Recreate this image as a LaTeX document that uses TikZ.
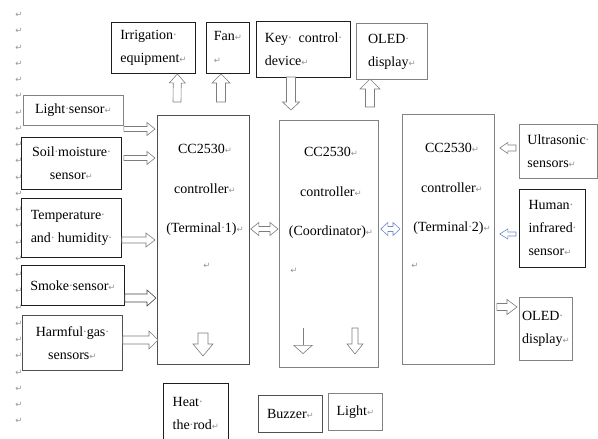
\documentclass[tikz,border=0pt]{standalone}
\usepackage{fontspec}
\setmainfont{Liberation Serif}
\newfontfamily\retfont{DejaVu Sans}
\usetikzlibrary{calc,arrows.meta}
\definecolor{markgray}{RGB}{150,150,150}
\definecolor{arrgray}{RGB}{125,125,125}
\definecolor{arrdark}{RGB}{70,70,70}
\definecolor{arrblue}{RGB}{110,140,200}
\definecolor{boxdark}{RGB}{30,30,30}
\definecolor{boxmid}{RGB}{80,80,80}
\definecolor{boxgray}{RGB}{130,130,130}
\newcommand\rt{{\retfont\fontsize{8.5}{8.5}\selectfont\color{markgray}↵}}
\newcommand\dt{\makebox[3.5pt][c]{\color{markgray}·}}
\tikzset{
  box/.style={draw=#1, line width=0.8pt, fill=white, anchor=north west, inner sep=0pt,
    align=left, font=\fontsize{14}{23}\selectfont},
  box/.default=boxdark,
  bigbox/.style={draw=#1, line width=0.8pt, fill=white, anchor=north west, inner sep=0pt},
  bigbox/.default=boxgray,
  termtext/.style={inner sep=0pt, align=center, font=\fontsize{14}{39.5}\selectfont},
  retmark/.style={inner sep=0pt},
  blk/.style n args={3}{line width=0.6pt, fill=white, to path={
    ($(\tikztotarget)!#3!(\tikztostart)$) coordinate (bbx)
    ($(\tikztostart)!#1!90:(\tikztotarget)$)
    -- ($(bbx)!#1!90:(\tikztotarget)$)
    -- ($(bbx)!#2!90:(\tikztotarget)$)
    -- (\tikztotarget)
    -- ($(bbx)!#2!-90:(\tikztotarget)$)
    -- ($(bbx)!#1!-90:(\tikztotarget)$)
    -- ($(\tikztostart)!#1!-90:(\tikztotarget)$)
    -- cycle}},
  blktwo/.style n args={3}{line width=0.6pt, fill=white, to path={
    ($(\tikztostart)!#3!(\tikztotarget)$) coordinate (bsx)
    ($(\tikztotarget)!#3!(\tikztostart)$) coordinate (btx)
    (\tikztostart)
    -- ($(bsx)!#2!90:(\tikztotarget)$)
    -- ($(bsx)!#1!90:(\tikztotarget)$)
    -- ($(btx)!#1!90:(\tikztotarget)$)
    -- ($(btx)!#2!90:(\tikztotarget)$)
    -- (\tikztotarget)
    -- ($(btx)!#2!-90:(\tikztotarget)$)
    -- ($(btx)!#1!-90:(\tikztotarget)$)
    -- ($(bsx)!#1!-90:(\tikztotarget)$)
    -- ($(bsx)!#2!-90:(\tikztotarget)$)
    -- cycle}},
}
\begin{document}
\begin{tikzpicture}[x=1pt,y=-1pt]
\fill[white] (0,0) rectangle (598,439);
\useasboundingbox (0,0) rectangle (598,439);

% paragraph marks in the left margin
\foreach \k in {0,...,25} \node[retmark] (m\k) at (19,{15+16.25*\k}) {\rt};

% top row
\node[box] (irr) at (111,22) [minimum width=84, minimum height=51] {Irrigation\dt\\equipment\rt};
\node[box] (fan) at (206,22) [minimum width=43, minimum height=51] {Fan\rt\\\rt};
\node[box] (key) at (256,21) [minimum width=94, minimum height=56] {Key\dt\ \ control\dt\\device\rt};
\node[box=boxgray] (oledt) at (356,23) [minimum width=71, minimum height=56] {OLED\dt\\display\rt};

% left sensors
\node[box=boxgray] (light) at (23,95) [minimum width=100, minimum height=30] {Light\dt sensor\rt};
\node[box, align=center] (soil) at (21,137) [minimum width=100, minimum height=52] {Soil\dt moisture\dt\\sensor\rt};
\node[box] (temp) at (21,198) [minimum width=100, minimum height=59] {Temperature\dt\\and\dt\ humidity\dt};
\node[box] (smoke) at (21,265) [minimum width=103, minimum height=40] {Smoke\dt sensor\rt};
\node[box=boxmid, align=center] (harm) at (22,315) [minimum width=100, minimum height=55] {Harmful\dt gas\dt\\sensors\rt};

% controllers
\node[bigbox=boxmid] (t1) at (157,115) [minimum width=92, minimum height=249] {};
\node[bigbox] (coord) at (279,120) [minimum width=99, minimum height=247] {};
\node[bigbox] (t2) at (402,114) [minimum width=92, minimum height=250] {};
\node[termtext] (t1l) at (205,190) {CC2530\rt\\controller\rt\\(Terminal\dt 1)\rt};
\node[termtext] (coordl) at (331,193) {CC2530\rt\\controller\rt\\(Coordinator)\rt};
\node[termtext] (t2l) at (452,189) {CC2530\rt\\controller\rt\\(Terminal\dt 2)\rt};
\node[retmark] (t1r) at (207,266) {\rt};
\node[retmark] (coordr) at (294,271) {\rt};
\node[retmark] (t2r) at (415,266) {\rt};

% right sensors
\node[box=boxgray] (ultra) at (519,124) [minimum width=78, minimum height=54] {Ultrasonic\dt\\sensors\rt};
\node[box] (human) at (519,189) [minimum width=66, minimum height=78] {Human\dt\\infrared\dt\\sensor\rt};
\node[box=boxgray] (oledr) at (519,297) [minimum width=53, minimum height=63] {OLED\dt\\display\rt};

% bottom row
\node[box] (heat) at (163,383) [minimum width=65, minimum height=60] {Heat\dt\\the\dt rod\rt};
\node[box=boxmid] (buzz) at (258,395) [minimum width=64, minimum height=37] {Buzzer\rt};
\node[box=boxgray] (lamp) at (328,393) [minimum width=54, minimum height=37] {Light\rt};

% arrow end points
\coordinate (a1s) at (light.east |- 0,129);  \coordinate (a1e) at ($(t1.west |- a1s)+(-2,0)$);
\coordinate (a2s) at ($(soil.east |- 0,158)+(2,0)$); \coordinate (a2e) at ($(t1.west |- a2s)+(-2,0)$);
\coordinate (a3s) at (temp.east |- 0,240); \coordinate (a3e) at ($(t1.west |- a3s)+(-2,0)$);
\coordinate (a4s) at (smoke.east |- 0,298); \coordinate (a4e) at ($(t1.west |- a4s)+(-1,0)$);
\coordinate (a5s) at (harm.east |- 0,340); \coordinate (a5e) at ($(t1.west |- a5s)+(1,0)$);
\coordinate (a6s) at (203,333); \coordinate (a6e) at (203,356);
\coordinate (a7s) at ($(t1.east |- 0,229)+(1,0)$); \coordinate (a7e) at ($(coord.west |- 0,229)+(-1,0)$);
\coordinate (a8s) at ($(coord.east |- 0,229)+(2,0)$); \coordinate (a8e) at ($(t2.west |- 0,229)+(-2,0)$);
\coordinate (a9s) at ($(ultra.west |- 0,148)+(-3,0)$); \coordinate (a9e) at ($(t2.east |- 0,148)+(5,0)$);
\coordinate (a10s) at ($(human.west |- 0,234)+(-3,0)$); \coordinate (a10e) at ($(t2.east |- 0,234)+(5,0)$);
\coordinate (a11s) at ($(t2.east |- 0,307)+(2,0)$); \coordinate (a11e) at ($(oledr.west |- 0,307)+(-2,0)$);
\coordinate (a12s) at (177,102); \coordinate (a12e) at ($(irr.south |- 0,74)+(24,0)$);
\coordinate (a13s) at (221,102); \coordinate (a13e) at (221,74);
\coordinate (a14s) at (291,77); \coordinate (a14e) at (291,110);
\coordinate (a15s) at (370,107); \coordinate (a15e) at (370,79);
\coordinate (a16s) at (303,328); \coordinate (a16e) at (303,354);
\coordinate (a17s) at (355,328); \coordinate (a17e) at (355,354);

% arrows
\draw[blk={2.5pt}{6.5pt}{8pt}, draw=arrgray] (a1s) to (a1e);
\draw[blk={2.5pt}{6.5pt}{8pt}, draw=arrgray] (a2s) to (a2e);
\draw[blk={3pt}{7pt}{9pt}, draw=arrgray] (a3s) to (a3e);
\draw[blk={4pt}{8pt}{9pt}, draw=arrdark] (a4s) to (a4e);
\draw[blk={4pt}{9pt}{9pt}, draw=arrgray] (a5s) to (a5e);
\draw[blk={5pt}{10pt}{12pt}, draw=arrgray] (a6s) to (a6e);
\draw[blktwo={2.5pt}{6.5pt}{8pt}, draw=arrgray] (a7s) to (a7e);
\draw[blktwo={2.5pt}{6.5pt}{7pt}, draw=arrblue] (a8s) to (a8e);
\draw[blk={3pt}{5.5pt}{8pt}, draw=arrgray] (a9s) to (a9e);
\draw[blk={2pt}{5pt}{8pt}, draw=arrblue] (a10s) to (a10e);
\draw[blk={3.5pt}{7.5pt}{10pt}, draw=arrgray] (a11s) to (a11e);
\draw[blk={4pt}{8pt}{9pt}, draw=arrgray] (a12s) to (a12e);
\draw[blk={4.5pt}{9pt}{9pt}, draw=arrgray] (a13s) to (a13e);
\draw[blk={4.5pt}{8.5pt}{8pt}, draw=arrgray] (a14s) to (a14e);
\draw[blk={4.5pt}{10pt}{10pt}, draw=arrgray] (a15s) to (a15e);
\draw[arrgray, line width=0.6pt, -{Triangle[open, length=9pt, width=20pt]}] (a16s) -- (a16e);
\draw[blk={3pt}{8pt}{10pt}, draw=arrgray] (a17s) to (a17e);
\end{tikzpicture}
\end{document}
